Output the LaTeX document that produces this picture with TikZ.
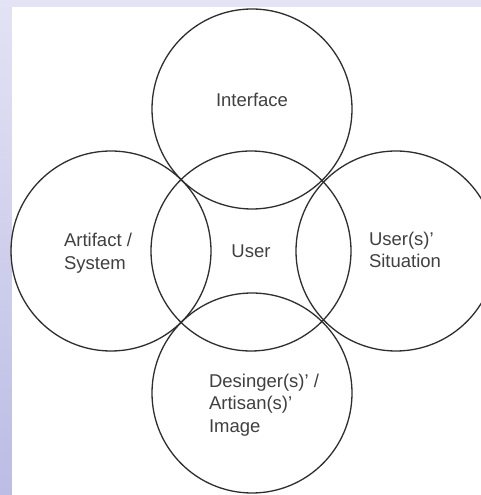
\documentclass[tikz,border=0pt]{standalone}
\usepackage{fontspec}
\setmainfont{Liberation Sans}
\usepackage{tikz}
\usetikzlibrary{positioning,shapes}
\definecolor{lavtop}{HTML}{E3E3F5}
\definecolor{lavbot}{HTML}{BCBCE5}
\definecolor{ink}{HTML}{2E2E2E}
\tikzstyle{circ}=[draw=ink, circle, minimum size = 200pt, inner sep=0pt, line width=1.3pt]
\tikzstyle{lbl}=[text=black!75, align=left, inner sep=0pt, font=\fontsize{18.5}{22.5}\selectfont]

\begin{document}
\begin{tikzpicture}[x=1pt,y=1pt,node distance=142pt]
\useasboundingbox (0,0) rectangle (481,495);
\shade[top color=lavtop, bottom color=lavbot] (0,0) rectangle (481,495);
\fill[white] (12,0) rectangle (481,488);

  \node[circ] at (251,244) (user) {};
  \node[circ, above of = user, xshift = 1pt] (intf) {};
  \node[circ, left of = user, node distance = 140pt] (artif) {};
  \node[circ, right of = user, node distance = 145pt] (situ) {};
  \node[circ, below of = user, xshift = 1pt] (desi) {};

\node[lbl] at (user) {User};
\node[lbl, above of = intf, node distance = 9pt] {Interface};
\node[lbl, left of = artif, node distance = 13pt, yshift = -2pt] {Artifact /\\System};
\node[lbl, right of = situ, node distance = 9pt, yshift = 1pt] {User(s)'\\Situation};
\node[lbl, right of = desi, node distance = 12pt, yshift = -12pt] {Desinger(s)' /\\Artisan(s)'\\Image};
\end{tikzpicture}
\end{document}
